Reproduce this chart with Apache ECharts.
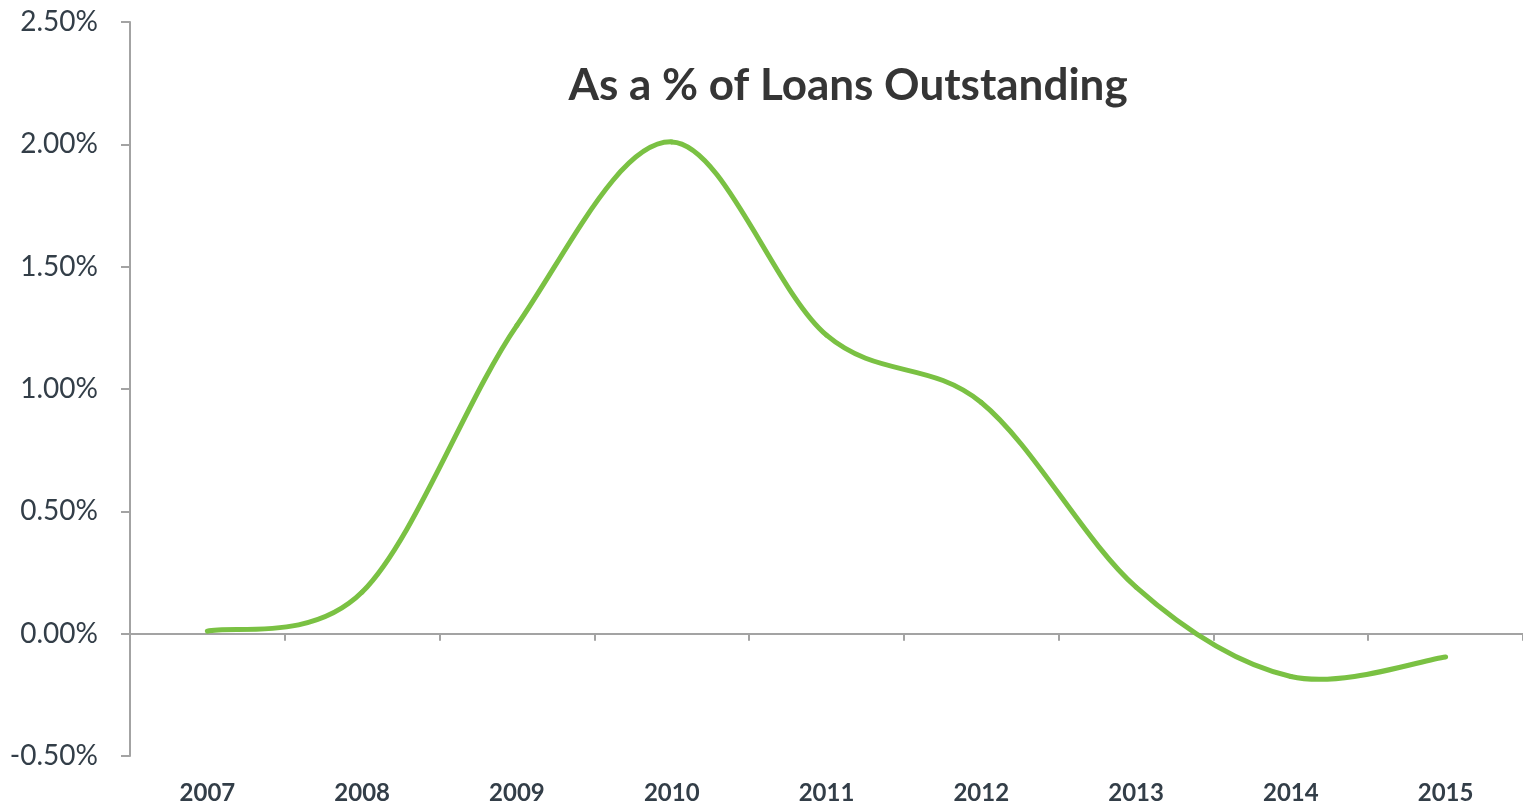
<!DOCTYPE html>
<html>
<head>
<meta charset="utf-8">
<script src="https://cdn.jsdelivr.net/npm/echarts@6/dist/echarts.min.js"></script>
<style>
html,body{margin:0;padding:0;background:#fff;}
#chart{width:1523px;height:805px;}
</style>
</head>
<body>
<div id="chart"></div>
<script>
var titleText = 'As a % of Loans Outstanding';
var years = ['2007','2008','2009','2010','2011','2012','2013','2014','2015'];
var pctOfLoans = [0.01, 0.17, 1.26, 2.01, 1.22, 0.945, 0.19, -0.175, -0.095];
var yTicks = {min: -0.5, max: 2.5, interval: 0.5};

var axisGrey = '#a3a3a3';
var textDark = '#333e48';
var lineGreen = '#7ac143';

// Smoothed segment (cardinal spline, like a spreadsheet "smoothed line") from point i to i+1,
// positioned through the chart's own axes via api.coord.
function renderSegment(params, api) {
  var i = params.dataIndex;
  var n = pctOfLoans.length;
  if (i >= n - 1) return null;
  function pt(k) {
    k = Math.max(0, Math.min(n - 1, k));
    return api.coord([k, pctOfLoans[k]]);
  }
  var p0 = pt(i - 1), p1 = pt(i), p2 = pt(i + 1), p3 = pt(i + 2);
  var cp1 = [p1[0] + (p2[0] - p0[0]) / 6, p1[1] + (p2[1] - p0[1]) / 6];
  var cp2 = [p2[0] - (p3[0] - p1[0]) / 6, p2[1] - (p3[1] - p1[1]) / 6];
  return {
    type: 'bezierCurve',
    shape: {x1: p1[0], y1: p1[1], x2: p2[0], y2: p2[1],
      cpx1: cp1[0], cpy1: cp1[1], cpx2: cp2[0], cpy2: cp2[1]},
    style: {stroke: lineGreen, lineWidth: 5, fill: null, lineCap: 'round', lineJoin: 'round'}
  };
}

var chart = echarts.init(document.getElementById('chart'), null, {renderer: 'canvas'});
chart.setOption({
  animation: false,
  backgroundColor: '#ffffff',
  textStyle: {fontFamily: 'Lato'},
  grid: {left: 130, right: -10, top: 22, bottom: 49, containLabel: false},
  graphic: [{
    type: 'text', x: 848, y: 86,
    style: {text: titleText, textAlign: 'center', textVerticalAlign: 'middle',
      font: 'bold 44px Lato', fill: '#353535'}
  }],
  xAxis: [{
    type: 'category', data: years, position: 'bottom', boundaryGap: true,
    axisLine: {show: false, onZero: false}, axisTick: {show: false},
    axisLabel: {fontSize: 24, fontWeight: 'bold', color: textDark, margin: 25, fontFamily: 'Lato'},
    splitLine: {show: false}
  }, {
    type: 'category', data: years, position: 'bottom', boundaryGap: true,
    axisLine: {show: true, onZero: true, lineStyle: {color: axisGrey, width: 2}},
    axisTick: {show: true, length: 7, lineStyle: {color: axisGrey, width: 2}},
    axisLabel: {show: false}, splitLine: {show: false}
  }],
  yAxis: {
    type: 'value', min: yTicks.min, max: yTicks.max, interval: yTicks.interval,
    axisLine: {show: true, lineStyle: {color: axisGrey, width: 2}},
    axisTick: {show: true, length: 9, lineStyle: {color: axisGrey, width: 2}},
    splitLine: {show: false},
    axisLabel: {fontSize: 28, color: textDark, margin: 32, fontFamily: 'Lato',
      formatter: function (v) { return v.toFixed(2) + '%'; }}
  },
  series: [{
    type: 'custom', xAxisIndex: 1, clip: false,
    data: pctOfLoans.map(function (v, k) { return [k, v]; }),
    encode: {x: 0, y: 1},
    renderItem: renderSegment
  }]
});
</script>
</body>
</html>
